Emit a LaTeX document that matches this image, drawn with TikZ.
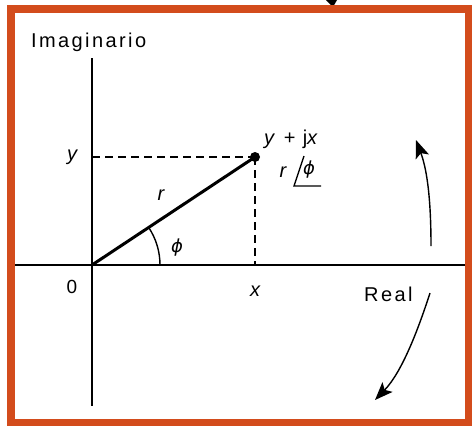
\documentclass[tikz,border=0pt]{standalone}
\usepackage{fontspec}
\setmainfont{Liberation Sans}
\newfontfamily\dejavu{DejaVu Sans}
\usetikzlibrary{arrows.meta}
\definecolor{framecol}{RGB}{211,76,28}
\tikzset{
  frame/.style={draw=framecol,line width=8pt},
  axis/.style={line width=1.4pt},
  radline/.style={line width=3pt},
  dashline/.style={line width=1.5pt,dash pattern=on 8pt off 5pt},
  dot/.style={circle,fill=black,inner sep=0pt,minimum size=10pt},
  lab/.style={font=\fontsize{20}{20}\selectfont\addfontfeatures{LetterSpace=12},inner sep=0pt},
  ilab/.style={font=\fontsize{20}{20}\selectfont\itshape,inner sep=0pt},
  plab/.style={font=\fontsize{18}{18}\selectfont\dejavu\itshape,inner sep=0pt},
  rotarrow/.style={line width=1.4pt,-{Stealth[length=18pt,width=14pt,inset=4pt]}}
}
\begin{document}
\begin{tikzpicture}[x=1pt,y=-1pt]
\useasboundingbox (0,0) rectangle (472,426);
% fragment above frame
\fill (326,0) -- (337,0) -- (333,7) -- cycle;
\draw[frame] (11,8.5) rectangle (468.5,422.5);
% axes
\coordinate (ytop) at (92,58);
\coordinate (ybot) at (92,406);
\coordinate (xl) at (15,265);
\coordinate (xr) at (465,265);
\coordinate (O) at (92,265);
\draw[axis] (ytop) -- (ybot);
\draw[axis] (xl) -- (xr);
% point
\node[dot] (P) at (255,157) {};
\coordinate (Py) at (92,157);
\coordinate (Px) at (255,265);
\draw[dashline] (Py) -- (P.center);
\draw[dashline] (P.center) -- (Px);
\draw[radline] (O) -- (P.center);
\draw[line width=1.4pt] (O) ++(68,0) arc[start angle=0,end angle=-33.5,radius=68];
% labels
\node[lab,anchor=west] (imag) at (31,42) {Imaginario};
\node[lab,anchor=west] (real) at (364,294) {Real};
\node[ilab] (ylab) at (72,157) {y};
\node[ilab] (xlab) at (255,291) {x};
\node[ilab] (rlab) at (161,195) {r};
\node[plab] (philab) at (177,248) {ϕ};
\node[font=\fontsize{19}{19}\selectfont\upshape,inner sep=0pt] (zero) at (72,287) {0};
\node[font=\fontsize{20}{20}\selectfont\addfontfeatures{LetterSpace=8},inner sep=0pt,anchor=west] (yjx) at (264,139) {\textit{y} + j\textit{x}};
\node[ilab] (rp) at (283,172) {r};
\node[plab] (pp) at (309,170) {ϕ};
\coordinate (a1) at (304,156);
\coordinate (a2) at (294,186);
\coordinate (a3) at (321,186);
\draw[line width=1.4pt] (a1) -- (a2) -- (a3);
% rotation arrows
\coordinate (u0) at (431,246);
\coordinate (u1) at (416,140);
\draw[rotarrow] (u0) .. controls (431,205) and (428,172) .. (u1);
\coordinate (d0) at (430,293);
\coordinate (d1) at (375,400);
\draw[rotarrow] (d0) .. controls (418,330) and (402,372) .. (d1);
\end{tikzpicture}
\end{document}
